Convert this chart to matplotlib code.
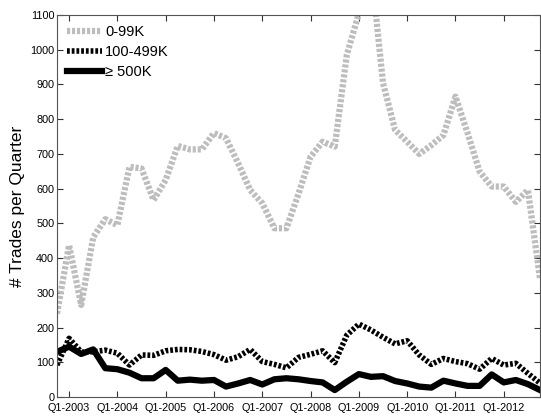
import matplotlib
matplotlib.use("Agg")
import matplotlib.pyplot as plt
import numpy as np

quarters = list(range(41))  # Q4-2002 .. Q4-2012
tick_pos = [1, 5, 9, 13, 17, 21, 25, 29, 33, 37]
tick_labels = ["Q1-2003", "Q1-2004", "Q1-2005", "Q1-2006", "Q1-2007",
               "Q1-2008", "Q1-2009", "Q1-2010", "Q1-2011", "Q1-2012"]

small = [240, 437, 265, 460, 512, 495, 663, 658, 567, 625, 723, 713, 713, 760, 745,
         673, 596, 558, 486, 486, 585, 692, 735, 721, 985, 1105, 1240, 904, 769, 735,
         700, 725, 754, 865, 760, 649, 606, 606, 562, 596, 340]
medium = [92, 169, 130, 130, 135, 126, 92, 121, 120, 133, 137, 136, 131, 122, 106,
          116, 137, 102, 94, 84, 114, 123, 133, 99, 178, 210, 193, 172, 153, 162,
          121, 94, 111, 102, 96, 80, 111, 92, 97, 68, 40]
large = [130, 145, 124, 137, 83, 80, 70, 54, 54, 78, 47, 50, 47, 49, 30,
         39, 49, 36, 51, 54, 51, 46, 42, 20, 44, 66, 58, 60, 46, 39,
         30, 27, 47, 39, 32, 32, 65, 42, 49, 37, 20]

plt.rcParams['font.family'] = ['Liberation Sans', 'DejaVu Sans']

fig = plt.figure(figsize=(5.41, 4.17), dpi=100)
ax = fig.add_axes([57 / 541, 1 - 397 / 417, (540 - 57) / 541, (397 - 15) / 417])

l1, = ax.plot(quarters, small, color='#bdbdbd', lw=4.5, label='0-99K')
l1.set_dashes([0.5, 0.3])
l2, = ax.plot(quarters, medium, color='black', lw=4.0, label='100-499K')
l2.set_dashes([0.5, 0.35])
l3, = ax.plot(quarters, large, color='black', lw=4.5, label='\u2265 500K')

ax.set_xlim(0, 40)
ax.set_ylim(0, 1100)
ax.set_yticks(range(0, 1101, 100))
ax.set_xticks(tick_pos)
ax.set_xticklabels(tick_labels)
ax.tick_params(direction='in', top=True, right=True, labelsize=7.8, length=4,
               width=0.8, colors='#333333', labelcolor='black')
ax.tick_params(axis='x', pad=4)
ax.tick_params(axis='y', pad=2)
for s in ax.spines.values():
    s.set_color('#555555')
    s.set_linewidth(0.8)
ax.set_ylabel('# Trades per Quarter', fontsize=12.5, labelpad=4)

leg = ax.legend(loc='upper left', frameon=False, fontsize=10.5, handlelength=2.4,
                handletextpad=0.2, labelspacing=0.4, borderaxespad=0.3,
                bbox_to_anchor=(0.0, 1.0))

fig.savefig('out.png', dpi=100)
